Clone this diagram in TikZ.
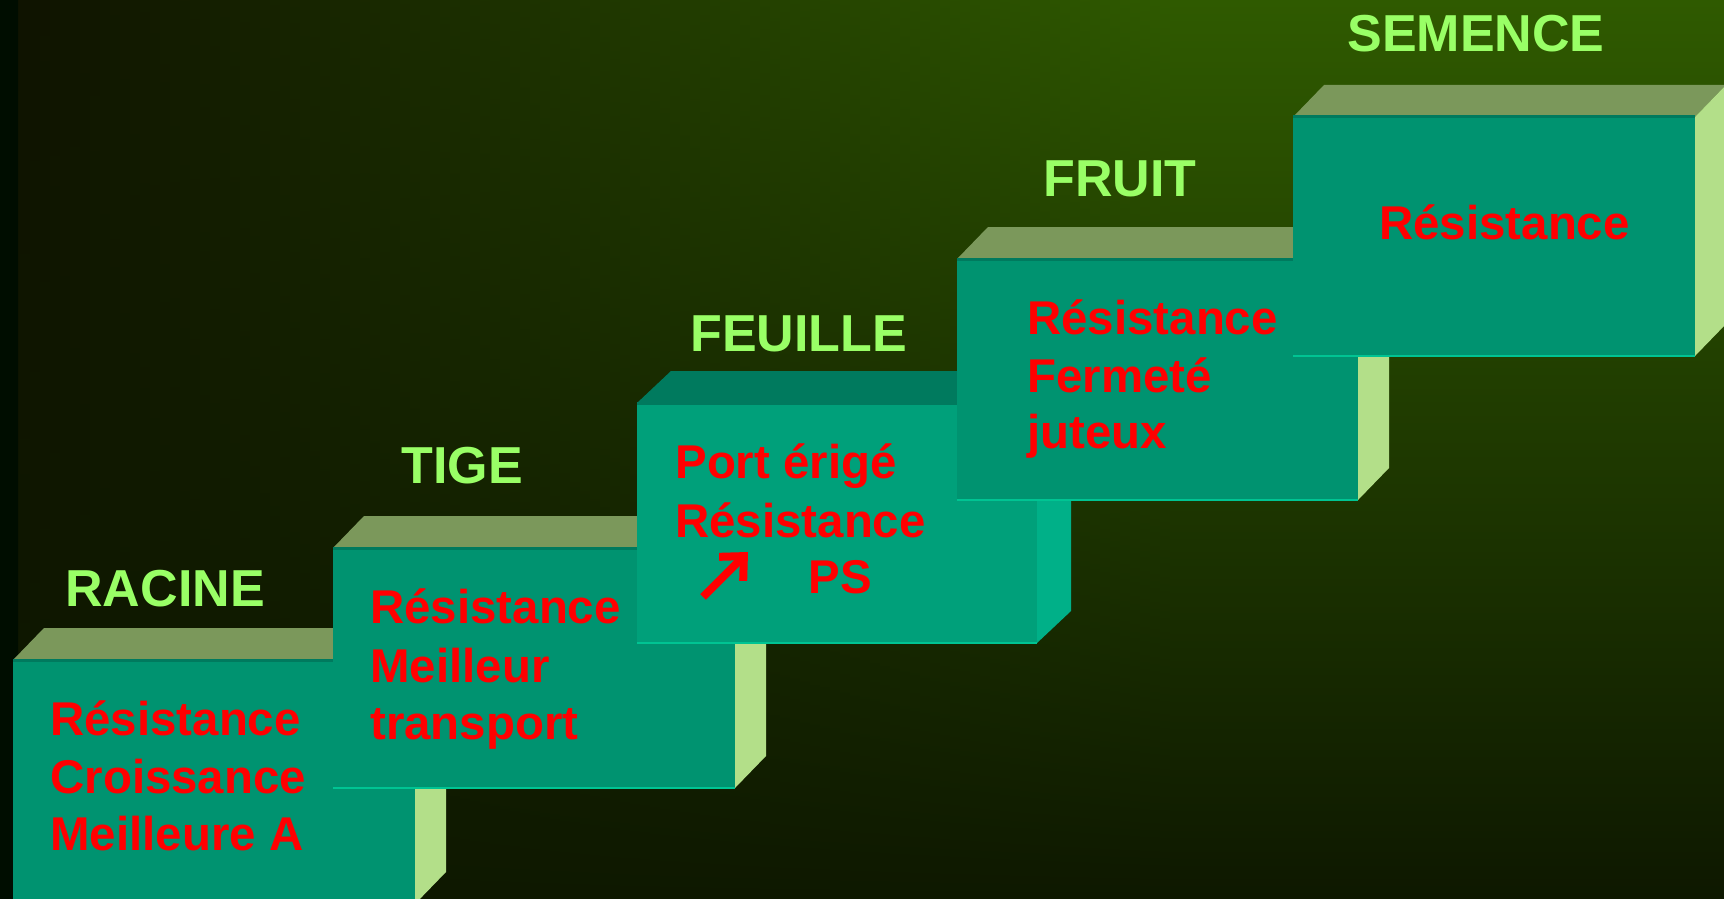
\documentclass[tikz,border=0pt]{standalone}
\usepackage{fontspec}
\setmainfont{Liberation Sans}
\usetikzlibrary{arrows.meta}
\definecolor{frontc}{RGB}{0,147,112}
\definecolor{frontf}{RGB}{0,160,122}
\definecolor{topc}{RGB}{123,152,91}
\definecolor{topf}{RGB}{0,122,94}
\definecolor{sidec}{RGB}{179,223,137}
\definecolor{sidef}{RGB}{0,176,136}
\definecolor{edgedark}{RGB}{0,122,94}
\definecolor{edgelight}{RGB}{0,196,147}
\definecolor{lbl}{RGB}{153,255,102}
\definecolor{txt}{RGB}{255,0,0}
\definecolor{bgTL}{RGB}{15,19,0}
\definecolor{bgTR}{RGB}{47,90,0}
\definecolor{bgB}{RGB}{14,24,0}
\definecolor{bgEdge}{RGB}{0,13,0}
\newcommand\drawblock[8]{%
  \fill[#6] (#1,#2) rectangle (#3,#4);
  \fill[#7] (#1,#2) -- (#1+#5,#2-32) -- (#3+#5,#2-32) -- (#3,#2) -- cycle;
  \fill[#8] (#3,#2) -- (#3+#5,#2-32) -- (#3+#5,#4-32) -- (#3,#4) -- cycle;
  \draw[edgedark, line width=1.5pt] (#1,#2) -- (#3,#2);
  \draw[edgelight, line width=1pt] (#1,#4) -- (#3,#4);
}
\tikzset{
  lab/.style={anchor=base west, inner sep=0pt, text=lbl, font=\fontsize{26}{30}\selectfont\bfseries},
  body/.style={anchor=base west, inner sep=0pt, text=txt, font=\fontsize{23.7}{28}\selectfont\bfseries}
}
\begin{document}
\begin{tikzpicture}[x=0.5pt,y=-0.5pt]
\useasboundingbox (0,0) rectangle (1724,899);
\clip (0,0) rectangle (1724,899);
% background: horizontal gradient at top, fading to dark at the bottom
\foreach \x in {0,10,...,1720}{
  \pgfmathsetmacro\p{min(100,max(0,(\x-18)/11.5))}
  \colorlet{tcol}{bgTR!\p!bgTL}
  \shade[top color=tcol, bottom color=bgB] (\x,0) rectangle (\x+11,899);
}
\shade[top color=bgEdge, bottom color=bgEdge] (0,0) rectangle (18,899);

\drawblock{13}{660}{415}{904}{31}{frontc}{topc}{sidec}
\drawblock{333}{548}{735}{788}{31}{frontc}{topc}{sidec}
\drawblock{637}{403}{1037}{643}{34}{frontf}{topf}{sidef}
\drawblock{957}{259}{1358}{500}{31}{frontc}{topc}{sidec}
\drawblock{1293}{117}{1695}{356}{31}{frontc}{topc}{sidec}

\node[lab] (racine) at (65,606) {RACINE};
\node[lab] (tige) at (401,483) {TIGE};
\node[lab] (feuille) at (690,351) {FEUILLE};
\node[lab] (fruit) at (1043,197) {FRUIT};
\node[lab] (semence) at (1347,52) {SEMENCE};

\node[body] (ra1) at (50,735) {Résistance};
\node[body] (ra2) at (50,793) {Croissance};
\node[body] (ra3) at (50,850) {Meilleure A};

\node[body] (ti1) at (370,623) {Résistance};
\node[body] (ti2) at (370,682) {Meilleur};
\node[body] (ti3) at (370,739) {transport};

\node[body] (fe1) at (675,478) {Port érigé};
\node[body] (fe2) at (675,537) {Résistance};
\node[body] (fe3) at (808,593) {PS};
\coordinate (arrS) at (703,597);
\coordinate (arrE) at (748,552);
\draw[txt, line width=4pt, -{Straight Barb[length=9pt,width=17pt]}] (arrS) -- (arrE);

\node[body] (fr1) at (1027,334) {Résistance};
\node[body] (fr2) at (1027,392) {Fermeté};
\node[body] (fr3) at (1027,448) {juteux};

\node[body] (se1) at (1379,239) {Résistance};
\end{tikzpicture}
\end{document}
